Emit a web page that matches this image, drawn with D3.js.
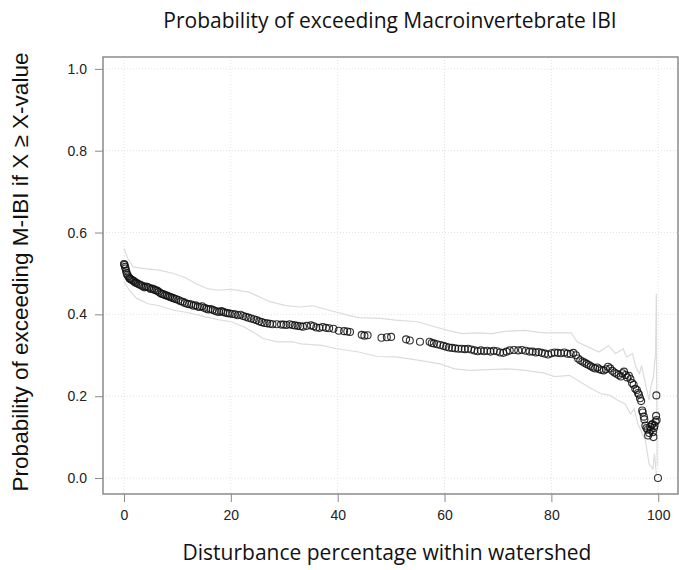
<!DOCTYPE html>
<html>
<head>
<meta charset="utf-8">
<script src="https://cdn.jsdelivr.net/npm/d3@7"></script>
<style>
  body { margin: 0; background: #fff; }
  #svg-container { width: 679px; height: 570px; }
  .tick text { font-family: "Liberation Sans", Arial, sans-serif; font-size: 14px; fill: #222; }
  .tick line { stroke: #888; }
  .title { font-family: "Open Sans", sans-serif; font-size: 21px; fill: #111; }
  .unit { font-family: "Open Sans", sans-serif; font-size: 21px; fill: #111; }
  .yunit { font-family: "Liberation Sans", Arial, sans-serif; font-size: 22.5px; fill: #111; }
</style>
</head>
<body>
<div id="svg-container"></div>
<script>
////////////////////////////////////////////////////////////////////
////////////////////////////  Data  ////////////////////////////////
// disturbance % (x) and probability of exceeding (y) for each observation
const pointX = [
  0, 0.1, 0.2, 0.3, 0.4, 0.5, 0.6, 0.8, 1.0, 1.1, 1.3, 1.5, 1.7, 1.9, 2.1, 2.3, 2.6, 2.9, 3.2, 3.5,
  3.8, 4.1, 4.4, 4.7, 5.0, 5.3, 5.6, 5.9, 6.2, 6.5, 6.8, 7.1, 7.4, 7.7, 8.0, 8.3, 8.6, 8.9, 9.2, 9.5, 9.8,
  10.2, 10.6, 11.0, 11.4, 11.8, 12.2, 12.6, 13.0, 13.4, 13.8, 14.2, 14.6, 15.0, 15.4, 15.8, 16.2, 16.6,
  17.0, 17.4, 17.8, 18.2, 18.6, 19.0, 19.4, 19.8,
  20.3, 20.8, 21.3, 21.8, 22.3, 22.8, 23.3, 23.8, 24.3, 24.8, 25.3, 25.8, 26.3, 26.8, 27.3, 27.8, 28.6, 29.4, 29.9, 30.4,
  31.0, 31.5, 32.0, 32.5, 33.0, 33.5, 34.2, 35.0, 35.5, 36.0, 36.6, 37.2, 37.8, 38.4, 39.2, 40.2,
  41.2, 41.8, 42.3, 44.5, 45.0, 45.6, 48.2, 49.2, 50.0, 52.8, 53.5, 55.4, 57.2, 57.6, 58.0, 58.6, 59.2, 59.8,
  60.3, 60.8, 61.4, 62.0, 62.6, 63.2, 63.8, 64.4, 65.0, 65.6, 66.2, 66.8, 67.4, 68.0, 68.6, 69.2, 69.8, 70.4,
  71.0, 71.6, 72.2, 73.0, 73.8, 74.5, 75.2, 75.9, 76.5, 77.1, 77.6, 78.2, 78.8, 79.4, 80.0, 80.6, 81.2, 81.8,
  82.4, 83.0, 83.6, 84.1,
  84.6, 85.0, 85.4, 85.8, 86.2, 86.6, 87.0, 87.4, 87.8, 88.2, 88.6, 89.0, 89.4, 89.8, 90.2, 90.6, 91.0, 91.4,
  91.8, 92.2, 92.6, 93.0, 93.3, 93.6, 93.9, 94.2, 94.5, 94.8, 95.1, 95.4, 95.7, 96.0, 96.2, 96.4, 96.6,
  96.8, 97.0, 97.1, 97.3, 97.4, 97.6, 97.8, 98.0, 98.1, 98.3, 98.5, 98.6, 98.8, 98.9, 99.0, 99.1, 99.2, 99.3,
  99.5, 99.6, 99.7, 99.65, 99.95
];
const pointY = [
  0.523, 0.521, 0.516, 0.512, 0.506, 0.501, 0.497, 0.493, 0.489, 0.487, 0.486, 0.484, 0.482, 0.481, 0.478, 0.477, 0.475, 0.473, 0.471, 0.469,
  0.466, 0.468, 0.467, 0.465, 0.462, 0.463, 0.461, 0.459, 0.458, 0.455, 0.452, 0.450, 0.449, 0.447, 0.446, 0.444, 0.443, 0.441, 0.440, 0.438, 0.437,
  0.435, 0.432, 0.431, 0.428, 0.426, 0.425, 0.424, 0.421, 0.422, 0.419, 0.418, 0.420, 0.416, 0.414, 0.412, 0.413, 0.411,
  0.409, 0.407, 0.406, 0.408, 0.406, 0.404, 0.403, 0.402,
  0.401, 0.400, 0.398, 0.399, 0.396, 0.394, 0.392, 0.390, 0.388, 0.386, 0.383, 0.381, 0.379, 0.378, 0.377, 0.376, 0.376, 0.375, 0.375, 0.374,
  0.376, 0.374, 0.373, 0.372, 0.371, 0.370, 0.372, 0.373, 0.371, 0.368, 0.367, 0.369, 0.367, 0.366, 0.365, 0.360,
  0.359, 0.358, 0.357, 0.350, 0.348, 0.349, 0.343, 0.344, 0.345, 0.339, 0.336, 0.333, 0.333, 0.330, 0.329, 0.327, 0.325, 0.323,
  0.321, 0.319, 0.318, 0.317, 0.316, 0.316, 0.315, 0.316, 0.314, 0.312, 0.310, 0.312, 0.310, 0.311, 0.309, 0.311, 0.310, 0.307,
  0.306, 0.309, 0.312, 0.313, 0.312, 0.313, 0.311, 0.309, 0.309, 0.307, 0.308, 0.306, 0.304, 0.302, 0.305, 0.307, 0.306, 0.305,
  0.307, 0.304, 0.303, 0.306,
  0.300, 0.292, 0.288, 0.285, 0.282, 0.279, 0.276, 0.273, 0.270, 0.268, 0.270, 0.266, 0.264, 0.263, 0.266, 0.272, 0.268, 0.262,
  0.258, 0.255, 0.252, 0.248, 0.256, 0.260, 0.252, 0.246, 0.250, 0.242, 0.232, 0.228, 0.218, 0.215, 0.208, 0.204, 0.195,
  0.188, 0.165, 0.160, 0.150, 0.143, 0.128, 0.122, 0.118, 0.104, 0.110, 0.125, 0.118, 0.130, 0.132, 0.112, 0.100, 0.122, 0.128,
  0.138, 0.152, 0.142, 0.202, 0.0
];

// upper / lower confidence bounds
const upperX = [0, 0.7, 1.7, 3.8, 6.6, 9.3, 11.4, 13.5, 15.6, 17.6, 20.1, 23.2, 25.3, 27.3, 30.1, 32.9, 35.3, 38.4,
  41.9, 43.9, 48.1, 50.9, 55.0, 57.8, 60.6, 63.3, 66.1, 68.9, 71.6, 75.1, 78.5, 82.0, 83.7, 84.8, 86.9, 88.9,
  90.7, 92.0, 93.4, 94.1, 95.2, 95.8, 96.5, 96.9, 97.6, 98.3, 98.6, 99.1, 99.5, 99.65, 99.7, 99.8];
const upperY = [0.561, 0.537, 0.516, 0.512, 0.508, 0.500, 0.490, 0.475, 0.463, 0.459, 0.461, 0.455, 0.443, 0.431, 0.422, 0.418, 0.421, 0.410,
  0.398, 0.392, 0.390, 0.386, 0.382, 0.371, 0.361, 0.353, 0.355, 0.353, 0.359, 0.361, 0.355, 0.355, 0.355, 0.333, 0.320, 0.308,
  0.324, 0.304, 0.316, 0.296, 0.304, 0.271, 0.255, 0.275, 0.230, 0.190, 0.222, 0.247, 0.304, 0.451, 0.250, 0.030];
const lowerX = [0, 1.0, 2.4, 4.5, 6.6, 9.3, 12.1, 14.9, 17.6, 20.1, 22.5, 24.6, 26.0, 28.7, 31.5, 33.2, 37.0, 39.8,
  43.9, 47.4, 50.9, 55.0, 59.2, 61.9, 64.7, 68.2, 71.6, 75.1, 78.5, 80.6, 83.4, 85.5, 87.5, 89.3, 91.0, 92.4,
  93.8, 94.8, 95.5, 96.2, 96.9, 97.6, 98.3, 99.0, 99.3, 99.65];
const lowerY = [0.480, 0.459, 0.439, 0.426, 0.421, 0.410, 0.404, 0.395, 0.387, 0.382, 0.369, 0.353, 0.341, 0.333, 0.333, 0.328, 0.324, 0.316,
  0.308, 0.297, 0.296, 0.288, 0.279, 0.267, 0.263, 0.265, 0.267, 0.263, 0.257, 0.248, 0.251, 0.234, 0.218, 0.206, 0.202, 0.190,
  0.181, 0.157, 0.169, 0.132, 0.112, 0.092, 0.034, 0.022, 0.059, 0.010];

const xTicks = [0, 20, 40, 60, 80, 100];
const yTicks = [0, 0.2, 0.4, 0.6, 0.8, 1.0];

////////////////////////////////////////////////////////////////////
////////////////////////////  Init  ////////////////////////////////
const width = 679;
const height = 570;
const margin = { top: 57, right: 1, bottom: 76, left: 103 };

const svg = d3.select("#svg-container").append("svg")
  .attr("width", width).attr("height", height);

// scale (R-style padding around 0..100 and 0..1)
const xScale = d3.scaleLinear().domain([-3.93, 103.7]).range([margin.left, width - margin.right]);
const yScale = d3.scaleLinear().domain([-0.039, 1.029]).range([height - margin.bottom, margin.top]);

// grid
svg.append("g").selectAll("line").data(xTicks).enter().append("line")
  .attr("x1", d => xScale(d)).attr("x2", d => xScale(d))
  .attr("y1", margin.top).attr("y2", height - margin.bottom)
  .attr("stroke", "#e2e2e2").attr("stroke-dasharray", "1,2");
svg.append("g").selectAll("line").data(yTicks).enter().append("line")
  .attr("x1", margin.left).attr("x2", width - margin.right)
  .attr("y1", d => yScale(d)).attr("y2", d => yScale(d))
  .attr("stroke", "#e2e2e2").attr("stroke-dasharray", "1,2");

// confidence bounds
const line = d3.line().x(d => xScale(d[0])).y(d => yScale(d[1]));
svg.append("path").datum(d3.zip(upperX, upperY)).attr("d", line)
  .attr("fill", "none").attr("stroke", "#dcdcdc").attr("stroke-width", 1.2);
svg.append("path").datum(d3.zip(lowerX, lowerY)).attr("d", line)
  .attr("fill", "none").attr("stroke", "#dcdcdc").attr("stroke-width", 1.2);

// points
svg.append("g").selectAll("circle").data(d3.zip(pointX, pointY)).enter().append("circle")
  .attr("cx", d => xScale(d[0]))
  .attr("cy", d => yScale(d[1]))
  .attr("r", 3.5)
  .attr("fill", "none")
  .attr("stroke", "#111")
  .attr("stroke-opacity", 0.85)
  .attr("stroke-width", 1.1);

// frame
svg.append("rect")
  .attr("x", margin.left).attr("y", margin.top)
  .attr("width", width - margin.right - margin.left)
  .attr("height", height - margin.bottom - margin.top)
  .attr("fill", "none").attr("stroke", "#8a8a8a").attr("stroke-width", 1.5);

// axis
const xAxis = d3.axisBottom(xScale).tickValues(xTicks).tickSize(8).tickPadding(8).tickFormat(d3.format("d"));
const yAxis = d3.axisLeft(yScale).tickValues(yTicks).tickSize(8).tickPadding(8).tickFormat(d3.format(".1f"));

svg.append("g").attr("class", "x-axis")
  .attr("transform", `translate(0,${height - margin.bottom})`)
  .call(xAxis).call(g => g.select(".domain").remove());
svg.append("g").attr("class", "y-axis")
  .attr("transform", `translate(${margin.left},0)`)
  .call(yAxis).call(g => g.select(".domain").remove());

// title & units
svg.append("text").attr("class", "title")
  .attr("x", 390).attr("y", 28).attr("text-anchor", "middle")
  .text("Probability of exceeding Macroinvertebrate IBI");
svg.append("text").attr("class", "unit")
  .attr("x", 387).attr("y", 560).attr("text-anchor", "middle")
  .text("Disturbance percentage within watershed");
svg.append("text").attr("class", "yunit")
  .attr("transform", "translate(28,272) rotate(-90)").attr("text-anchor", "middle")
  .text("Probability of exceeding M-IBI if X ≥ X-value");
</script>
</body>
</html>
